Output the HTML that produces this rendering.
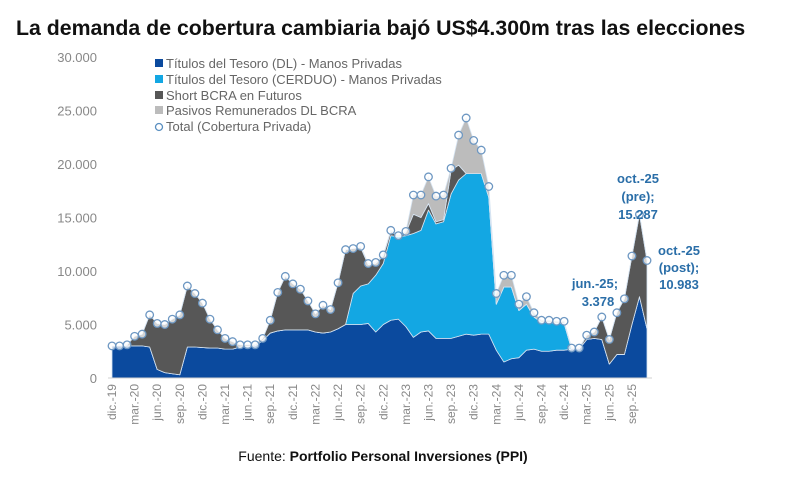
<!DOCTYPE html>
<html><head><meta charset="utf-8"><style>
body{margin:0;background:#fff;width:800px;height:483px;overflow:hidden;font-family:"Liberation Sans",sans-serif}
svg{display:block}
</style></head><body>
<svg id="chart" width="800" height="483" xmlns="http://www.w3.org/2000/svg">
<text x="16" y="35" font-size="21.3" font-weight="bold" fill="#111">La demanda de cobertura cambiaria bajó US$4.300m tras las elecciones</text>
<g id="yaxis"></g>
<g id="plot"></g>
<g id="xaxis"></g>
<g font-size="13" fill="#666">
 <g><rect x="155" y="59" width="8" height="8" fill="#0b4a9e"/><text x="166" y="68">Títulos del Tesoro (DL) - Manos Privadas</text></g>
 <g><rect x="155" y="75" width="8" height="8" fill="#13a7e3"/><text x="166" y="84">Títulos del Tesoro (CERDUO) - Manos Privadas</text></g>
 <g><rect x="155" y="91" width="8" height="8" fill="#575757"/><text x="166" y="100">Short BCRA en Futuros</text></g>
 <g><rect x="155" y="106" width="8" height="8" fill="#bcbcbc"/><text x="166" y="115">Pasivos Remunerados DL BCRA</text></g>
 <g><circle cx="159" cy="127" r="3.5" fill="#fff" stroke="#5a8fc0" stroke-width="1.3"/><text x="166" y="131">Total (Cobertura Privada)</text></g>
</g>
<g font-size="13" font-weight="bold" fill="#2a6ea8" text-anchor="middle">
 <text x="638" y="183">oct.-25</text>
 <text x="638" y="201">(pre);</text>
 <text x="638" y="219">15.287</text>
 <text x="679" y="255">oct.-25</text>
 <text x="679" y="272">(post);</text>
 <text x="679" y="289">10.983</text>
 <text x="595" y="288">jun.-25;</text>
 <text x="598" y="306">3.378</text>
</g>
<text x="383" y="461" text-anchor="middle" font-size="14" fill="#111">Fuente: <tspan font-weight="bold">Portfolio Personal Inversiones (PPI)</tspan></text>
</svg>
<script>
const dlValues=[3000,3000,3000,3000,3000,2900,800,500,400,300,2900,2900,2850,2800,2800,2700,2700,2900,2950,3000,3500,4200,4400,4500,4500,4500,4500,4300,4200,4300,4600,5000,5000,5000,5100,4300,5000,5400,5500,4800,3800,4300,4400,3700,3700,3700,3900,4100,4000,4100,4100,2600,1500,1800,1900,2600,2700,2500,2500,2600,2600,2700,2700,3600,3700,3600,1300,2200,2200,5000,7600,4600];
const cerduoValues=[0,0,0,0,0,0,0,0,0,0,0,0,0,0,0,0,0,0,0,0,0,0,0,0,0,0,0,0,0,0,0,0,2900,3600,3700,5300,5700,7900,7700,8500,9700,9500,11300,10700,10900,13500,14600,15000,15100,15000,12800,4300,7000,6700,4400,4300,3000,2700,2700,2500,2500,0,0,0,0,0,0,0,0,0,0,0];
const shortValues=[0,0,100,900,1100,3000,4300,4500,5100,5600,5700,5000,4150,2700,1700,1000,700,200,150,100,200,1200,3600,5000,4300,3800,2700,1700,2600,2100,4300,7000,4200,3600,1800,1100,700,400,0,300,1800,1200,600,200,200,2200,1400,0,0,0,0,0,0,0,0,0,0,0,0,0,0,0,0,400,600,2100,2300,3900,5200,6400,7687,6383];
const pasivosValues=[0,0,0,0,0,0,0,0,0,0,0,0,0,0,0,0,0,0,0,0,0,0,0,0,0,0,0,0,0,0,0,0,0,100,100,100,100,100,100,100,1800,2100,2500,2400,2300,200,2800,5200,3100,2200,1000,1000,1100,1100,600,700,400,200,200,200,200,100,100,0,0,0,0,0,0,0,0,0];
const yTicks=[0,5000,10000,15000,20000,25000,30000];
const yTickLabels=["0","5.000","10.000","15.000","20.000","25.000","30.000"];
const xTickLabels=["dic.-19","mar.-20","jun.-20","sep.-20","dic.-20","mar.-21","jun.-21","sep.-21","dic.-21","mar.-22","jun.-22","sep.-22","dic.-22","mar.-23","jun.-23","sep.-23","dic.-23","mar.-24","jun.-24","sep.-24","dic.-24","mar.-25","jun.-25","sep.-25"];

const NS="http://www.w3.org/2000/svg";
const n=dlValues.length;
const x0=112,x1=647,yBase=378,yScale=321/30000;
const xOf=i=>x0+i*(x1-x0)/(n-1);
const yOf=v=>yBase-v*yScale;
function mk(tag,attrs,parent){const e=document.createElementNS(NS,tag);for(const k in attrs)e.setAttribute(k,attrs[k]);parent.appendChild(e);return e;}
const plot=document.getElementById('plot'),yaxis=document.getElementById('yaxis'),xaxis=document.getElementById('xaxis');

yTicks.forEach((v,k)=>{
 const t=mk('text',{x:97,y:yOf(v)+5,'text-anchor':'end','font-size':13,fill:'#888'},yaxis);
 
 
 t.textContent=yTickLabels[k];
});

const series=[dlValues,cerduoValues,shortValues,pasivosValues];
const colors=["#0b4a9e","#13a7e3","#575757","#bcbcbc"];
const names=["area-dl","area-cerduo","area-short","area-pasivos"];
const cum=new Array(n).fill(0);
series.forEach((s,si)=>{
 const lower=cum.slice();
 for(let i=0;i<n;i++)cum[i]+=s[i];
 let d="M"+xOf(0)+","+yOf(cum[0]);
 for(let i=1;i<n;i++)d+=" L"+xOf(i)+","+yOf(cum[i]);
 for(let i=n-1;i>=0;i--)d+=" L"+xOf(i)+","+yOf(lower[i]);
 d+="Z";
 const p=mk('path',{d:d,fill:colors[si],stroke:'#d6e4f2','stroke-width':0.8,'stroke-linejoin':'round'},plot);
 
 
});
for(let i=0;i<n;i++){
 const c=mk('circle',{cx:xOf(i),cy:yOf(cum[i]),r:3.8,fill:'#fff','fill-opacity':0.75,stroke:'#6d97c2','stroke-width':1.3},plot);
 
 
}
mk('line',{x1:108,x2:652,y1:yBase,y2:yBase,stroke:'#d0d0d0','stroke-width':1},xaxis);
xTickLabels.forEach((lab,k)=>{
 const x=xOf(k*3);
 const t=mk('text',{x:0,y:0,transform:`translate(${x+4},384) rotate(-90)`,'text-anchor':'end','font-size':12,fill:'#888'},xaxis);
 
 
 t.textContent=lab;
});
</script>
</body></html>
